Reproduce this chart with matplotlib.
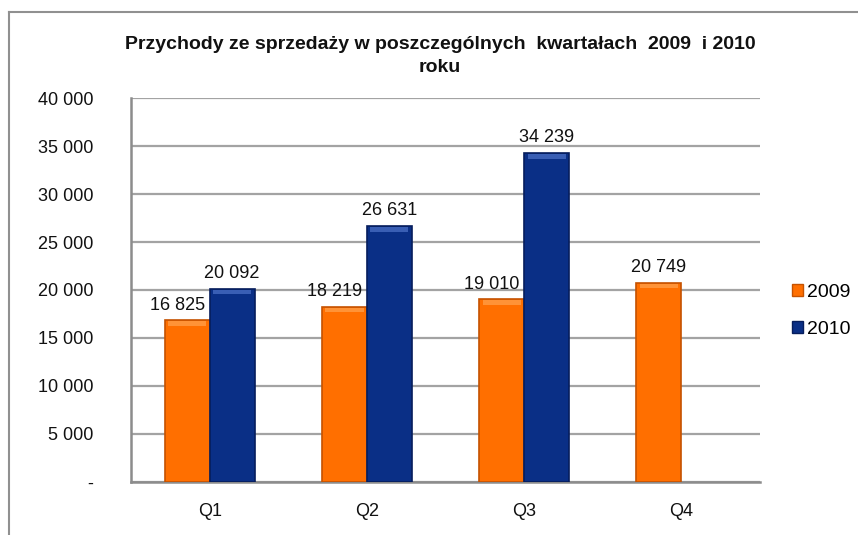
import numpy as np
import matplotlib.pyplot as plt
from matplotlib.lines import Line2D
from matplotlib.patches import Patch

plt.rcParams['font.family'] = ['Liberation Sans', 'DejaVu Sans']

# ---- data ----
quarters = ['Q1', 'Q2', 'Q3', 'Q4']
sales_2009 = [16825, 18219, 19010, 20749]
sales_2010 = [20092, 26631, 34239, None]
y_ticks = [0, 5000, 10000, 15000, 20000, 25000, 30000, 35000, 40000]


def fmt(v):
    if v == 0:
        return '-'
    return f'{v:,.0f}'.replace(',', ' ')


fig = plt.figure(figsize=(8.58, 5.35), dpi=100)
ax = fig.add_axes([0.1527, 0.0991, 0.7331, 0.7177])

x = np.arange(len(quarters))
w = 0.286
grid_c = '#a3a3a3'

series = [
    (sales_2009, -w / 2, '#ff6f00', '#c55200', '#ffa04a', '2009'),
    (sales_2010, w / 2, '#0a2f86', '#061d5c', '#4a6ec4', '2010'),
]

for k, (vals, off, face, edge, light, name) in enumerate(series):
    xs = [xi + off for xi, v in zip(x, vals) if v is not None]
    vs = [v for v in vals if v is not None]
    ax.bar(xs, vs, width=w, color=face, edgecolor=edge, linewidth=1.2, zorder=3)
    # bevel highlight on top of each bar
    ax.bar(xs, [450] * len(vs), bottom=[v - 550 for v in vs], width=w * 0.85,
           color=light, linewidth=0, zorder=4, alpha=0.75)
    for i, (xi, v) in enumerate(zip(xs, vs)):
        # 2009 labels sit a bit to the left when a 2010 bar stands next to them
        dx = -7 if k == 0 and sales_2010[i] is not None else 0
        ax.annotate(fmt(v), (xi, v), xytext=(dx, 5), textcoords='offset points',
                    ha='center', va='bottom', fontsize=13, color='#111111',
                    zorder=6)

ax.set_xlim(-0.5, len(quarters) - 0.5)
ax.set_ylim(0, 40000)
ax.set_yticks(y_ticks)
ax.set_yticklabels([fmt(t) for t in y_ticks])
ax.set_xticks(x)
ax.set_xticklabels(quarters)
ax.tick_params(axis='y', length=0, pad=27, labelsize=13, colors='#111111')
ax.tick_params(axis='x', length=0, pad=15, labelsize=13, colors='#111111')

ax.yaxis.grid(True, color=grid_c, linewidth=1.6, zorder=0)
ax.set_axisbelow(True)
for s in ['top', 'right']:
    ax.spines[s].set_visible(False)
for s in ['left', 'bottom']:
    ax.spines[s].set_color('#8c8c8c')
    ax.spines[s].set_linewidth(1.8)

fig.text(440 / 858, 1 - 56 / 535,
         'Przychody ze sprzedaży w poszczególnych  kwartałach  2009  i 2010\nroku',
         ha='center', va='center', fontsize=14, fontweight='bold',
         linespacing=1.45, color='#111111')

handles = [Patch(facecolor=s[2], edgecolor=s[3], label=s[5]) for s in series]
fig.legend(handles=handles, loc='center left', bbox_to_anchor=(792 / 858, 1 - 311 / 535),
           frameon=False, fontsize=14, handlelength=0.57, handleheight=0.57,
           handletextpad=0.2, labelspacing=1.05, borderpad=0, borderaxespad=0)

# outer chart border
fig.add_artist(Line2D([9 / 858, 1], [1 - 12 / 535] * 2, color='#909090', lw=1.5))
fig.add_artist(Line2D([9 / 858] * 2, [0, 1 - 12 / 535], color='#909090', lw=1.5))

plt.savefig('out.png', dpi=100, facecolor='white')
plt.close()
